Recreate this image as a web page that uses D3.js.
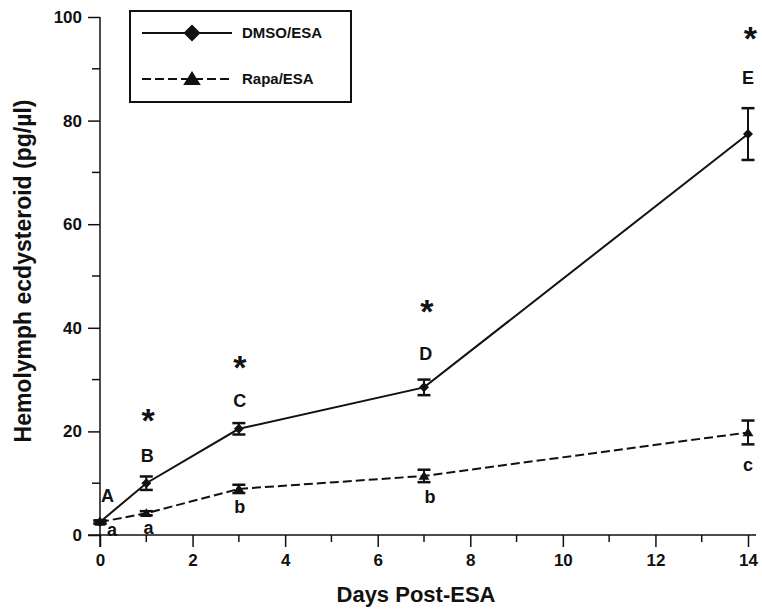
<!DOCTYPE html>
<html>
<head>
<meta charset="utf-8">
<script src="https://cdn.jsdelivr.net/npm/d3@7"></script>
<style>
  body { margin: 0; background: #fff; }
  text { font-family: "Liberation Sans", Arial, Helvetica, sans-serif; font-weight: bold; fill: #111; }
</style>
</head>
<body>
<div id="graph"></div>
<script>
const days = [0, 1, 3, 7, 14];
const dmso = [2.5, 10.0, 20.5, 28.5, 77.4];
const dmsoErr = [0.3, 1.3, 1.1, 1.5, 5.0];
const rapa = [2.5, 4.2, 8.9, 11.4, 19.8];
const rapaErr = [0.3, 0.4, 0.8, 1.2, 2.3];

// significance letters (position in data units)
const upperLetters = ['A', 'B', 'C', 'D', 'E'];
const upperX = [0.16, 1.02, 3.02, 7.04, 14];
const upperY = [7.7, 15.3, 25.9, 35.0, 88.4];
const lowerLetters = ['a', 'a', 'b', 'b', 'c'];
const lowerX = [0.26, 1.05, 3.02, 7.13, 14];
const lowerY = [1.0, 1.5, 5.5, 7.4, 13.7];
const starX = [1.04, 3.02, 7.06, 14.05];
const starY = [23.6, 34.0, 44.8, 97.5];

const xTicks = [0, 2, 4, 6, 8, 10, 12, 14];
const xMinor = [1, 3, 5, 7, 9, 11, 13];
const yTicks = [0, 20, 40, 60, 80, 100];
const yMinor = [10, 30, 50, 70, 90];

const W = 762, H = 615;
const ink = '#111';

const svg = d3.select('#graph')
  .append('svg')
  .attr('width', W)
  .attr('height', H);

const x = d3.scaleLinear().domain([0, 14]).range([100, 748]);
const y = d3.scaleLinear().domain([0, 100]).range([535, 17]);

// axes
const xAxis = d3.axisBottom(x).tickValues(xTicks).tickSize(12).tickPadding(2);
const gx = svg.append('g')
  .attr('transform', `translate(0, ${y(0)})`)
  .call(xAxis);
gx.select('.domain').remove();
gx.append('line')
  .attr('x1', 88).attr('x2', 756)
  .attr('stroke', ink).attr('stroke-width', 1.5);
gx.selectAll('.tick line').attr('stroke', ink).attr('stroke-width', 1.5);
gx.selectAll('.tick text')
  .attr('fill', ink)
  .style('font-size', '17px')
  .attr('dy', '1em');

gx.selectAll('.minor')
  .data(xMinor)
  .enter()
  .append('line')
  .attr('x1', d => x(d)).attr('x2', d => x(d))
  .attr('y1', 0).attr('y2', 7)
  .attr('stroke', ink).attr('stroke-width', 1.5);

const yAxis = d3.axisLeft(y).tickValues(yTicks).tickSize(12).tickPadding(6);
const gy = svg.append('g')
  .attr('transform', `translate(${x(0)}, 0)`)
  .call(yAxis);
gy.select('.domain').remove();
gy.append('line')
  .attr('y1', y(100)).attr('y2', y(0) + 12)
  .attr('stroke', ink).attr('stroke-width', 1.5);
gy.selectAll('.tick line').attr('stroke', ink).attr('stroke-width', 1.5);
gy.selectAll('.tick text')
  .attr('fill', ink)
  .style('font-size', '17px');

gy.selectAll('.minor')
  .data(yMinor)
  .enter()
  .append('line')
  .attr('y1', d => y(d)).attr('y2', d => y(d))
  .attr('x1', 0).attr('x2', -8)
  .attr('stroke', ink).attr('stroke-width', 1.5);

// axis titles
svg.append('text')
  .attr('x', 416)
  .attr('y', 602)
  .attr('text-anchor', 'middle')
  .style('font-size', '22px')
  .text('Days Post-ESA');

svg.append('text')
  .attr('transform', 'translate(31, 271) rotate(-90)')
  .attr('text-anchor', 'middle')
  .style('font-size', '23px')
  .text('Hemolymph ecdysteroid (pg/\u00b5l)');

// series
const line = d3.line()
  .x((d, i) => x(days[i]))
  .y(d => y(d));

const diamond = (cx, cy, r) =>
  `M${cx},${cy - r}L${cx + r},${cy}L${cx},${cy + r}L${cx - r},${cy}Z`;
const triangle = (cx, cy, r) =>
  `M${cx},${cy - r}L${cx + r * 1.1},${cy + r * 0.75}L${cx - r * 1.1},${cy + r * 0.75}Z`;

const series = [
  { vals: rapa, err: rapaErr, dash: '9,4', shape: triangle, r: 5 },
  { vals: dmso, err: dmsoErr, dash: null, shape: diamond, r: 5 }
];

series.forEach(s => {
  svg.append('path')
    .datum(s.vals)
    .attr('d', line)
    .attr('fill', 'none')
    .attr('stroke', ink)
    .attr('stroke-width', 2)
    .attr('stroke-dasharray', s.dash);

  const eb = svg.append('g')
    .selectAll('g')
    .data(s.vals)
    .enter()
    .append('g')
    .attr('stroke', ink);

  eb.append('line')
    .attr('x1', (d, i) => x(days[i])).attr('x2', (d, i) => x(days[i]))
    .attr('y1', (d, i) => y(d + s.err[i])).attr('y2', (d, i) => y(d - s.err[i]))
    .attr('stroke-width', 2);
  eb.append('line')
    .attr('x1', (d, i) => x(days[i]) - 6.5).attr('x2', (d, i) => x(days[i]) + 6.5)
    .attr('y1', (d, i) => y(d + s.err[i])).attr('y2', (d, i) => y(d + s.err[i]))
    .attr('stroke-width', 2.5);
  eb.append('line')
    .attr('x1', (d, i) => x(days[i]) - 6.5).attr('x2', (d, i) => x(days[i]) + 6.5)
    .attr('y1', (d, i) => y(d - s.err[i])).attr('y2', (d, i) => y(d - s.err[i]))
    .attr('stroke-width', 2.5);

  svg.append('g')
    .selectAll('path')
    .data(s.vals)
    .enter()
    .append('path')
    .attr('d', (d, i) => s.shape(x(days[i]), y(d), s.r))
    .attr('fill', ink);
});

// letters and stars
svg.append('g')
  .selectAll('text')
  .data(upperLetters)
  .enter()
  .append('text')
  .attr('x', (d, i) => x(upperX[i]))
  .attr('y', (d, i) => y(upperY[i]))
  .attr('dy', '0.36em')
  .attr('text-anchor', 'middle')
  .style('font-size', '18px')
  .text(d => d);

svg.append('g')
  .selectAll('text')
  .data(lowerLetters)
  .enter()
  .append('text')
  .attr('x', (d, i) => x(lowerX[i]))
  .attr('y', (d, i) => y(lowerY[i]))
  .attr('dy', '0.36em')
  .attr('text-anchor', 'middle')
  .style('font-size', '18px')
  .text(d => d);

svg.append('g')
  .selectAll('text')
  .data(starX)
  .enter()
  .append('text')
  .attr('x', d => x(d))
  .attr('y', (d, i) => y(starY[i]))
  .attr('dy', '0.58em')
  .attr('text-anchor', 'middle')
  .style('font-size', '34px')
  .text('*');

// legend
const legend = svg.append('g');
legend.append('rect')
  .attr('x', 130).attr('y', 11)
  .attr('width', 221).attr('height', 91)
  .attr('fill', '#fff')
  .attr('stroke', ink)
  .attr('stroke-width', 2);

const legendItems = [
  { label: 'DMSO/ESA', dash: null, shape: diamond, r: 8.5, ly: 33 },
  { label: 'Rapa/ESA', dash: '9,4', shape: triangle, r: 8, ly: 79 }
];

legendItems.forEach(l => {
  legend.append('line')
    .attr('x1', 142).attr('x2', 232)
    .attr('y1', l.ly).attr('y2', l.ly)
    .attr('stroke', ink)
    .attr('stroke-width', 2)
    .attr('stroke-dasharray', l.dash);
  legend.append('path')
    .attr('d', l.shape(192, l.ly, l.r))
    .attr('fill', ink);
  legend.append('text')
    .attr('x', 242).attr('y', l.ly)
    .attr('dy', '0.36em')
    .style('font-size', '15px')
    .text(l.label);
});
</script>
</body>
</html>
